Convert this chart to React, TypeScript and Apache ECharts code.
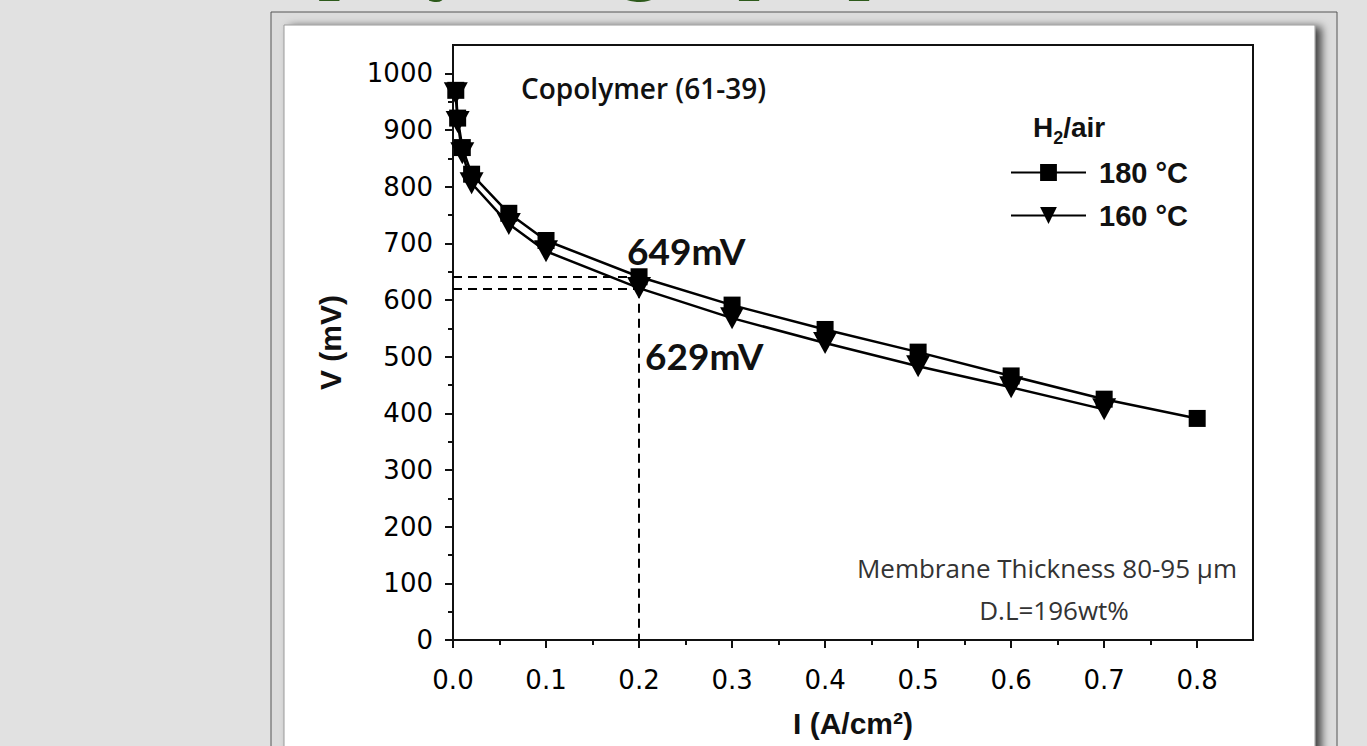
import React, { useEffect, useRef } from "react";
import * as echarts from "echarts";

// ---- data ----
const currents180 = [0.003, 0.005, 0.01, 0.02, 0.06, 0.1, 0.2, 0.3, 0.4, 0.5, 0.6, 0.7, 0.8];
const volts180 = [970, 921, 869, 822, 753, 705, 641, 591, 548, 508, 466, 425, 391];
const currents160 = [0.003, 0.005, 0.01, 0.02, 0.06, 0.1, 0.2, 0.3, 0.4, 0.5, 0.6, 0.7];
const volts160 = [965, 914, 859, 806, 734, 686, 621, 568, 524, 483, 446, 407];

const xMajorTicks = [0, 0.1, 0.2, 0.3, 0.4, 0.5, 0.6, 0.7, 0.8];
const xMinorTicks = [0.05, 0.15, 0.25, 0.35, 0.45, 0.55, 0.65, 0.75];
const yMajorTicks = [0, 100, 200, 300, 400, 500, 600, 700, 800, 900, 1000];
const yMinorTicks = [50, 150, 250, 350, 450, 550, 650, 750, 850, 950];

const markCurrent = 0.2;
const markV180 = 641;
const markV160 = 620;

const seriesNames = ["180 °C", "160 °C"];

export default function App() {
  const ref = useRef<HTMLDivElement>(null);

  useEffect(() => {
    document.body.style.margin = "0";
    const chart = echarts.init(ref.current!, null, { renderer: "svg" });

    const axisColor = "#111";
    const tickFont = { fontSize: 26, fontFamily: "DejaVu Sans", color: "#000" };

    const option: any = {
      animation: false,
      backgroundColor: "#e1e1e1",
      grid: {
        left: 453,
        top: 45,
        width: 800,
        height: 595,
        show: true,
        backgroundColor: "#ffffff",
        borderColor: "#111",
        borderWidth: 2,
      },
      xAxis: [
        {
          type: "value",
          min: 0,
          max: 0.86,
          interval: 0.1,
          position: "bottom",
          splitLine: { show: false },
          axisLine: { show: true, onZero: false, lineStyle: { color: axisColor, width: 2 } },
          axisTick: {
            show: true,
            inside: false,
            length: 8,
            lineStyle: { color: axisColor, width: 2 },
            customValues: xMajorTicks,
          },
          axisLabel: {
            ...tickFont,
            customValues: xMajorTicks,
            margin: 27,
            formatter: (v: number) => v.toFixed(1),
          },
          name: "I (A/cm²)",
          nameLocation: "middle",
          nameGap: 68,
          nameTextStyle: { fontSize: 30, fontWeight: "bold", fontFamily: "Liberation Sans", color: "#111" },
        },
        {
          type: "value",
          min: 0,
          max: 0.86,
          position: "bottom",
          splitLine: { show: false },
          axisLine: { show: false },
          axisLabel: { show: false },
          axisTick: {
            show: true,
            inside: false,
            length: 5,
            lineStyle: { color: axisColor, width: 2 },
            customValues: xMinorTicks,
          },
        },
      ],
      yAxis: [
        {
          type: "value",
          min: 0,
          max: 1050,
          interval: 100,
          position: "left",
          splitLine: { show: false },
          axisLine: { show: true, onZero: false, lineStyle: { color: axisColor, width: 2 } },
          axisTick: {
            show: true,
            inside: false,
            length: 8,
            lineStyle: { color: axisColor, width: 2 },
            customValues: yMajorTicks,
          },
          axisLabel: {
            ...tickFont,
            customValues: yMajorTicks,
            margin: 20,
            formatter: (v: number) => String(v),
          },
          name: "V (mV)",
          nameLocation: "middle",
          nameRotate: 90,
          nameGap: 108,
          nameTextStyle: { fontSize: 30, fontWeight: "bold", fontFamily: "Liberation Sans", color: "#111" },
        },
        {
          type: "value",
          min: 0,
          max: 1050,
          position: "left",
          splitLine: { show: false },
          axisLine: { show: false },
          axisLabel: { show: false },
          axisTick: {
            show: true,
            inside: false,
            length: 5,
            lineStyle: { color: axisColor, width: 2 },
            customValues: yMinorTicks,
          },
        },
      ],
      legend: {
        orient: "vertical",
        left: 1010,
        top: 158,
        itemWidth: 75,
        itemHeight: 21,
        itemGap: 14,
        padding: 0,
        data: seriesNames,
        textStyle: {
          fontSize: 29,
          fontWeight: "bold",
          fontFamily: "Liberation Sans",
          color: "#111",
          padding: [0, 0, 0, 8],
        },
      },
      series: [
        {
          name: seriesNames[0],
          type: "line",
          xAxisIndex: 0,
          yAxisIndex: 0,
          data: currents180.map((x, i) => [x, volts180[i]]),
          symbol: "rect",
          symbolSize: 17,
          itemStyle: { color: "#000" },
          lineStyle: { color: "#000", width: 2.5 },
          z: 3,
          markLine: {
            silent: true,
            symbol: "none",
            label: { show: false },
            lineStyle: { color: "#000", width: 2, type: [9, 6] },
            data: [
              [{ coord: [0, markV180] }, { coord: [markCurrent, markV180] }],
              [{ coord: [0, markV160] }, { coord: [markCurrent, markV160] }],
              [{ coord: [markCurrent, markV160] }, { coord: [markCurrent, 0] }],
            ],
          },
        },
        {
          name: seriesNames[1],
          type: "line",
          xAxisIndex: 0,
          yAxisIndex: 0,
          data: currents160.map((x, i) => [x, volts160[i]]),
          symbol: "triangle",
          symbolRotate: 180,
          symbolSize: [24, 22],
          itemStyle: { color: "#000" },
          lineStyle: { color: "#000", width: 2.5 },
          z: 4,
        },
      ],
      graphic: [
        {
          type: "rect",
          z: -20,
          silent: true,
          shape: { x: 271, y: 12, width: 1066, height: 800 },
          style: { fill: "#dcdcdc", stroke: "#555", lineWidth: 1 },
        },
        {
          type: "rect",
          z: -19,
          silent: true,
          shape: { x: 284, y: 25, width: 1031, height: 800 },
          style: {
            fill: "#ffffff",
            stroke: "#9a9a9a",
            lineWidth: 1,
            shadowBlur: 8,
            shadowOffsetX: 6,
            shadowOffsetY: 2,
            shadowColor: "rgba(0,0,0,0.7)",
          },
        },
        {
          type: "text",
          z: 10,
          silent: true,
          x: 227,
          y: -3,
          style: {
            text: "Copolymer graph plot",
            font: "bold 62px 'DejaVu Serif'",
            fill: "#2d5a1b",
            verticalAlign: "bottom",
          },
        },
        {
          type: "text",
          z: 10,
          silent: true,
          x: 521,
          y: 88,
          style: {
            text: "Copolymer (61-39)",
            font: "600 28px 'Open Sans'",
            fill: "#111",
            verticalAlign: "middle",
          },
        },
        {
          type: "text",
          z: 10,
          silent: true,
          x: 1033,
          y: 130,
          style: {
            text: "{a|H}{s|2}{a|/air}",
            verticalAlign: "middle",
            rich: {
              a: { font: "bold 28px 'Liberation Sans'", fill: "#111", verticalAlign: "top" },
              s: { font: "bold 18px 'Liberation Sans'", fill: "#111", padding: [16, 0, 0, 0], verticalAlign: "top" },
            },
          },
        },
        {
          type: "text",
          z: 10,
          silent: true,
          x: 627,
          y: 250,
          style: { text: "649mV", font: "bold 37px Lato", fill: "#111", verticalAlign: "middle" },
        },
        {
          type: "text",
          z: 10,
          silent: true,
          x: 645,
          y: 355,
          style: { text: "629mV", font: "bold 37px Lato", fill: "#111", verticalAlign: "middle" },
        },
        {
          type: "text",
          z: 10,
          silent: true,
          x: 1237,
          y: 568,
          style: {
            text: "Membrane Thickness 80-95 µm",
            font: "26px 'Open Sans'",
            fill: "#333",
            align: "right",
            verticalAlign: "middle",
          },
        },
        {
          type: "text",
          z: 10,
          silent: true,
          x: 1054,
          y: 610,
          style: {
            text: "D.L=196wt%",
            font: "26px 'Open Sans'",
            fill: "#333",
            align: "center",
            verticalAlign: "middle",
          },
        },
      ],
    };

    chart.setOption(option);
    return () => chart.dispose();
  }, []);

  return (
    <div
      ref={ref}
      style={{ position: "absolute", left: 0, top: 0, width: 1367, height: 746 }}
    />
  );
}
